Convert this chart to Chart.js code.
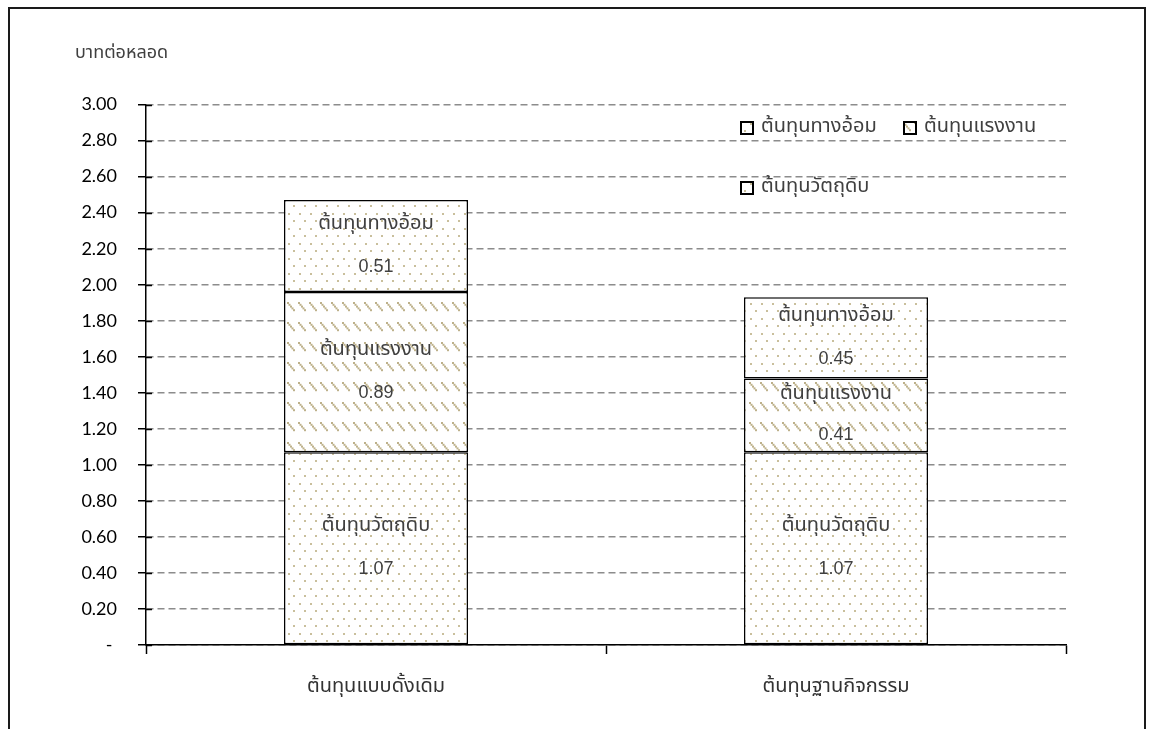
<!DOCTYPE html>
<html>
<head>
<meta charset="utf-8">
<script src="https://cdn.jsdelivr.net/npm/chart.js@4.4.1/dist/chart.umd.min.js"></script>
<style>
  html, body { margin: 0; padding: 0; background: #fff; }
  #wrap { width: 1149px; height: 729px; position: relative; }
</style>
</head>
<body>
<div id="wrap"><canvas id="c" width="1149" height="729"></canvas></div>
<script>
// Cost per bulb, split by cost component
const categories = ['ต้นทุนแบบดั้งเดิม', 'ต้นทุนฐานกิจกรรม'];
const seriesNames = ['ต้นทุนวัตถุดิบ', 'ต้นทุนแรงงาน', 'ต้นทุนทางอ้อม'];
const materialCost = [1.07, 1.07];
const laborCost = [0.89, 0.41];
const overheadCost = [0.51, 0.45];
const yTitle = 'บาทต่อหลอด';
const yTickMin = 0;
const yTickMax = 3;
const yTickStep = 0.2;

const THAI_FONT = 'Tahoma, "Noto Sans Thai", "Noto Sans", "DejaVu Sans", sans-serif';
const NUM_FONT = 'Lato, "Open Sans", sans-serif';
const DOT_COLOR = '#c9bf9c';
const HATCH_COLOR = '#bdb18a';

// Sparse dot fill
function dotPattern() {
  const t = document.createElement('canvas');
  t.width = 11; t.height = 15;
  const g = t.getContext('2d');
  g.fillStyle = '#fff';
  g.fillRect(0, 0, 11, 15);
  g.fillStyle = DOT_COLOR;
  g.fillRect(2, 3, 2, 2);
  g.fillRect(7, 10, 2, 2);
  return g.createPattern(t, 'repeat');
}

// Bands of short dotted backslash strokes
function hatchPattern() {
  const t = document.createElement('canvas');
  t.width = 11; t.height = 20;
  const g = t.getContext('2d');
  g.fillStyle = '#fff';
  g.fillRect(0, 0, 11, 20);
  g.fillStyle = HATCH_COLOR;
  for (let k = 0; k < 5; k++) {
    g.fillRect(1 + k * 1.5, 2 + k * 1.8, 2, 2);
  }
  return g.createPattern(t, 'repeat');
}

const fills = [dotPattern(), hatchPattern(), dotPattern()];
const seriesValues = [materialCost, laborCost, overheadCost];

// Outer frame around the figure
const framePlugin = {
  id: 'frame',
  beforeDraw(chart) {
    const ctx = chart.ctx;
    ctx.save();
    ctx.fillStyle = '#fff';
    ctx.fillRect(0, 0, chart.width, chart.height);
    ctx.strokeStyle = '#1a1a1a';
    ctx.lineWidth = 2;
    ctx.strokeRect(9, 8, 1136, 800);
    ctx.restore();
  }
};

// Short black stubs where the value ticks cross the vertical axis
const crossTicks = {
  id: 'crossTicks',
  afterDraw(chart) {
    const y = chart.scales.y;
    const ctx = chart.ctx;
    ctx.save();
    ctx.strokeStyle = '#000';
    ctx.lineWidth = 1.5;
    y.ticks.forEach((t) => {
      const py = Math.round(y.getPixelForValue(t.value)) + 0.5;
      ctx.beginPath();
      ctx.moveTo(y.right, py);
      ctx.lineTo(y.right + 6, py);
      ctx.stroke();
    });
    ctx.restore();
  }
};

// Series name and value written inside each segment
const segmentLabels = {
  id: 'segmentLabels',
  afterDatasetsDraw(chart) {
    const ctx = chart.ctx;
    ctx.save();
    ctx.textAlign = 'center';
    ctx.textBaseline = 'middle';
    ctx.fillStyle = '#404040';
    chart.data.datasets.forEach((ds, di) => {
      const meta = chart.getDatasetMeta(di);
      meta.data.forEach((bar, i) => {
        const v = ds.data[i];
        const cy = (bar.y + bar.base) / 2;
        const gap = Math.min(21, Math.abs(bar.base - bar.y) / 2 - 17);
        ctx.font = '20px ' + THAI_FONT;
        ctx.fillText(ds.label, bar.x, cy - gap);
        ctx.font = '18px "Liberation Sans", Arial, sans-serif';
        ctx.fillText(v.toFixed(2), bar.x, cy + gap);
      });
    });
    ctx.restore();
  }
};

// Legend placed inside the plot, top series first
const insideLegend = {
  id: 'insideLegend',
  afterDraw(chart) {
    const ctx = chart.ctx;
    const ds = chart.data.datasets;
    const order = [2, 1, 0];
    const spots = [[741, 128], [904, 128], [741, 188]];
    ctx.save();
    ctx.textBaseline = 'middle';
    ctx.textAlign = 'left';
    ctx.font = '20px ' + THAI_FONT;
    order.forEach((di, k) => {
      const [x, y] = spots[k];
      ctx.fillStyle = ds[di].backgroundColor;
      ctx.fillRect(x, y - 6, 12, 12);
      ctx.strokeStyle = '#000';
      ctx.lineWidth = 2;
      ctx.strokeRect(x, y - 6, 12, 12);
      ctx.fillStyle = '#404040';
      ctx.fillText(ds[di].label, x + 20, y);
    });
    ctx.restore();
  }
};

new Chart(document.getElementById('c'), {
  type: 'bar',
  data: {
    labels: categories,
    datasets: seriesValues.map((vals, i) => ({
      label: seriesNames[i],
      data: vals,
      backgroundColor: fills[i],
      borderColor: '#000',
      borderWidth: 1.5,
      borderSkipped: false,
      barPercentage: 1,
      categoryPercentage: 0.4
    }))
  },
  options: {
    responsive: false,
    animation: false,
    events: [],
    layout: { padding: { left: 75, right: 83, top: 0, bottom: 0 } },
    plugins: {
      legend: { display: false },
      tooltip: { enabled: false },
      title: {
        display: true,
        text: yTitle,
        align: 'start',
        color: '#404040',
        font: { family: THAI_FONT, size: 18, weight: 'normal' },
        padding: { top: 44, bottom: 39 }
      }
    },
    scales: {
      x: {
        stacked: true,
        offset: true,
        grid: {
          offset: true,
          drawOnChartArea: false,
          drawTicks: true,
          tickLength: 9,
          tickColor: '#000',
          tickWidth: 1.5
        },
        border: { color: '#000', width: 1.5 },
        ticks: {
          color: '#333',
          padding: 22,
          font: { family: THAI_FONT, size: 20 }
        },
        afterFit(scale) { scale.height = 84; }
      },
      y: {
        stacked: true,
        min: yTickMin,
        max: yTickMax,
        grid: {
          color: '#8c8c8c',
          lineWidth: 1.5,
          tickColor: '#000',
          tickWidth: 1.5,
          tickLength: 8
        },
        border: { color: '#000', width: 1.5, dash: [7, 4] },
        ticks: {
          stepSize: yTickStep,
          color: '#000',
          padding: 21,
          font: { family: NUM_FONT, size: 18 },
          callback: (v) => (Math.abs(v) < 1e-9 ? '- ' : Number(v).toFixed(2))
        },
        afterFit(scale) { scale.width = 71; }
      }
    }
  },
  plugins: [framePlugin, segmentLabels, insideLegend, crossTicks]
});
</script>
</body>
</html>
